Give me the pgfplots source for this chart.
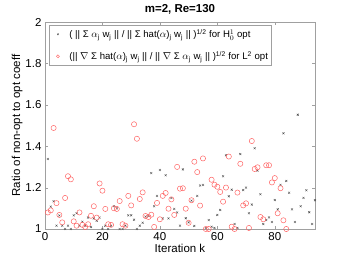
\documentclass[border=0pt]{standalone}
\usepackage{fontspec}
\setmainfont{Liberation Sans}
\usepackage{pgfplots}
\pgfplotsset{compat=1.18}
\definecolor{axgray}{RGB}{160,160,160}
\definecolor{redc}{RGB}{255,100,100}
\definecolor{crossc}{RGB}{80,80,80}
\pgfplotstableread{
x y
1 1.338
2 1.108
3 1.134
4 1.016
5 1.065
6 1.016
7 1.0
8 1.016
9 1.0
10 1.066
11 1.076
12 1.016
13 1.035
14 1.016
15 1.055
16 1.01
17 1.051
18 1.04
19 1.055
20 1.0
21 1.016
22 1.0
23 1.016
24 1.11
25 1.10
26 1.0
27 1.0
28 1.016
29 1.066
30 1.066
31 1.045
32 1.0
33 1.016
34 1.03
35 1.06
36 1.063
37 1.27
38 1.11
39 1.16
40 1.285
41 1.051
42 1.26
43 1.051
44 1.15
45 1.097
46 1.08
47 1.016
48 1.288
49 1.052
50 1.032
51 1.137
52 1.015
53 1.16
54 1.21
55 1.213
56 1.005
57 1.043
58 1.011
59 1.005
60 1.068
61 1.092
62 1.255
63 1.356
64 1.158
65 1.19
66 1.024
67 1.005
68 1.362
69 1.188
70 1.20
71 1.076
72 1.118
73 1.39
74 1.282
75 1.168
76 1.024
77 1.043
78 1.056
79 1.034
80 1.14
81 1.095
82 1.213
83 1.462
84 1.232
85 1.175
86 1.095
87 1.034
88 1.552
89 1.11
90 1.15
91 1.187
92 1.081
93 1.024
94 1.139
}\blackdata
\pgfplotstableread{
x y
1 1.08
2 1.09
3 1.488
4 1.125
5 1.068
6 1.032
7 1.15
8 1.255
9 1.24
10 1.037
11 1.016
12 1.08
13 1.02
14 1.01
15 1.023
16 1.064
17 1.11
18 1.055
19 1.22
20 1.185
21 1.097
22 1.023
23 1.02
24 1.10
25 1.097
26 1.135
27 1.023
28 1.016
29 1.16
30 1.114
31 1.506
32 1.436
33 1.145
34 1.177
35 1.063
36 1.058
37 1.069
38 1.01
39 1.126
40 1.047
41 1.16
42 1.174
43 1.098
44 1.143
45 1.068
46 1.30
47 1.195
48 1.197
49 1.098
50 1.03
51 1.139
52 1.325
53 1.275
54 1.113
55 1.341
56 1.0
57 1.0
58 1.238
59 1.214
60 1.204
61 1.179
62 1.132
63 1.20
64 1.35
65 1.011
66 1.0
67 1.176
68 1.315
69 1.114
70 1.124
71 1.005
72 1.425
73 1.29
74 1.298
75 1.058
76 1.047
77 1.308
78 1.308
79 1.225
80 1.246
81 1.076
82 1.197
83 1.042
84 1.0
}\reddata
\begin{document}
\begin{tikzpicture}
\path[use as bounding box] (-45pt,-37pt) rectangle (296pt,229pt);
\begin{axis}[
  scale only axis,
  width=270pt, height=207pt,
  xmin=0, xmax=94, ymin=1, ymax=2,
  xtick={0,20,40,60,80},
  ytick={1,1.2,1.4,1.6,1.8,2},
  yticklabels={1,1.2,1.4,1.6,1.8,2},
  /pgf/number format/assume math mode=true,
  tick align=inside,
  major tick length=3pt,
  axis line style={axgray},
  tick style={axgray},
  tick label style={font=\fontsize{11.5}{12}\selectfont, black},
  title={\textbf{m=2, Re=130}},
  title style={font=\fontsize{11.5}{12}\selectfont, yshift=-2pt},
  xlabel={Iteration k},
  ylabel={Ratio of non-opt to opt coeff},
  label style={font=\fontsize{11.5}{12}\selectfont},
  xlabel style={yshift=3pt},
  ylabel style={yshift=-4pt},
  legend style={at={(rel axis cs:0.015,0.985)}, anchor=north west,
    draw=axgray, font=\fontsize{9.6}{11}\selectfont, inner xsep=1pt, inner ysep=2pt,
    row sep=8pt, cells={anchor=west}},
  legend cell align=left,
]
\addplot[only marks, mark=x, mark size=1.4pt, color=crossc, mark options={line width=0.4pt},
  legend image code/.code={\path[draw=none] (0cm,0cm) -- (0.6cm,0cm); \draw[only marks, mark size=1pt] plot coordinates {(0.27cm,0cm)};}] table {\blackdata};
\addlegendentry{( || Σ $\alpha$\textsubscript{j} w\textsubscript{j} || / || Σ hat($\alpha$)\textsubscript{j} w\textsubscript{j} || )\textsuperscript{1/2} for H$^{1}_{0}$ opt}
\addplot[only marks, mark=o, mark size=2.6pt, color=redc, mark options={line width=0.5pt},
  legend image code/.code={\path[draw=none] (0cm,0cm) -- (0.6cm,0cm); \draw[only marks, mark size=1.5pt] plot coordinates {(0.27cm,0cm)};}] table {\reddata};
\addlegendentry{(|| $\nabla$ Σ hat($\alpha$)\textsubscript{j} w\textsubscript{j} || / || $\nabla$ Σ $\alpha$\textsubscript{j} w\textsubscript{j} || )\textsuperscript{1/2} for L\textsuperscript{2} opt}
\end{axis}
\end{tikzpicture}
\end{document}
